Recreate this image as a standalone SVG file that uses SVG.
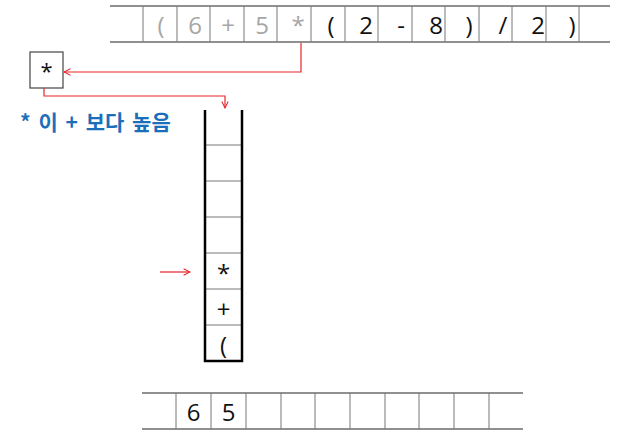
<svg xmlns="http://www.w3.org/2000/svg" width="642" height="448" viewBox="0 0 642 448">
<defs>
<style>
.rule{stroke:#222;stroke-width:1.2}
.cell{stroke:#777;stroke-width:1}
.wall{stroke:#000;stroke-width:2.5;fill:none}
.t{font-family:"Open Sans","Noto Sans",sans-serif;font-size:24px;text-anchor:middle}
.s{font-size:22px}
.g{fill:#a6a6a6}
.k{fill:#111}
.red{stroke:#e8262b;stroke-width:1.2;fill:none}
</style>
<marker id="ah" viewBox="0 0 10 10" refX="9" refY="5" markerWidth="8" markerHeight="8" orient="auto" markerUnits="userSpaceOnUse">
<path d="M1,1 L9,5 L1,9" fill="none" stroke="#e8262b" stroke-width="1.3"/>
</marker>
</defs>
<rect width="642" height="448" fill="#fff"/>
<g id="input">
<line class="rule" x1="110" y1="6" x2="610" y2="6"/>
<line class="rule" x1="110" y1="42" x2="610" y2="42"/>
<g class="cell">
<line x1="143" y1="6" x2="143" y2="42"/><line x1="177" y1="6" x2="177" y2="42"/><line x1="210" y1="6" x2="210" y2="42"/><line x1="244" y1="6" x2="244" y2="42"/><line x1="277" y1="6" x2="277" y2="42"/><line x1="311" y1="6" x2="311" y2="42"/><line x1="345" y1="6" x2="345" y2="42"/><line x1="378" y1="6" x2="378" y2="42"/><line x1="412" y1="6" x2="412" y2="42"/><line x1="445" y1="6" x2="445" y2="42"/><line x1="479" y1="6" x2="479" y2="42"/><line x1="512" y1="6" x2="512" y2="42"/><line x1="546" y1="6" x2="546" y2="42"/><line x1="579" y1="6" x2="579" y2="42"/>
</g>
<text class="t g" x="161" y="34">(</text>
<text class="t g" x="195" y="34">6</text>
<text class="t g" x="228" y="34">+</text>
<text class="t g" x="262" y="34">5</text>
<text class="t g" x="298" y="34">*</text>
<text class="t k" x="331" y="34">(</text>
<text class="t k" x="366" y="34">2</text>
<text class="t k" x="401" y="34">-</text>
<text class="t k" x="436" y="34">8</text>
<text class="t k" x="469" y="34">)</text>
<text class="t k" x="503" y="34">/</text>
<text class="t k" x="538" y="34">2</text>
<text class="t k" x="572" y="34">)</text>
</g>
<g id="current">
<rect x="30" y="52" width="33" height="36" fill="none" stroke="#444" stroke-width="1.2"/>
<text class="t k s" x="46.5" y="79">*</text>
</g>
<g id="note">
<text x="20" y="130" font-family="'Noto Sans CJK KR','Noto Sans',sans-serif" font-size="21" font-weight="bold" word-spacing="3" fill="#1b6fba">* 이 + 보다 높음</text>
</g>
<g id="stack">
<g class="cell">
<line x1="205" y1="145" x2="242" y2="145"/><line x1="205" y1="181" x2="242" y2="181"/><line x1="205" y1="217" x2="242" y2="217"/><line x1="205" y1="253" x2="242" y2="253"/><line x1="205" y1="289" x2="242" y2="289"/><line x1="205" y1="325" x2="242" y2="325"/>
</g>
<path class="wall" d="M205,110 V361 H242 V110"/>
<text class="t k" x="223.5" y="282">*</text>
<text class="t k" x="223.5" y="318">+</text>
<text class="t k" x="223.5" y="354">(</text>
</g>
<g id="output">
<line class="rule" x1="142" y1="393" x2="523" y2="393"/>
<line class="rule" x1="142" y1="429" x2="523" y2="429"/>
<g class="cell">
<line x1="176" y1="393" x2="176" y2="429"/><line x1="211" y1="393" x2="211" y2="429"/><line x1="246" y1="393" x2="246" y2="429"/><line x1="281" y1="393" x2="281" y2="429"/><line x1="315" y1="393" x2="315" y2="429"/><line x1="350" y1="393" x2="350" y2="429"/><line x1="385" y1="393" x2="385" y2="429"/><line x1="419" y1="393" x2="419" y2="429"/><line x1="454" y1="393" x2="454" y2="429"/><line x1="489" y1="393" x2="489" y2="429"/>
</g>
<text class="t k" x="193.5" y="421">6</text>
<text class="t k" x="228.5" y="421">5</text>
</g>
<g id="connectors">
<path class="red" d="M301,43 V72 H64" marker-end="url(#ah)"/>
<path class="red" d="M44,88 V96 H225 V108" marker-end="url(#ah)"/>
<path class="red" d="M160,272 H190" marker-end="url(#ah)"/>
</g>
</svg>
